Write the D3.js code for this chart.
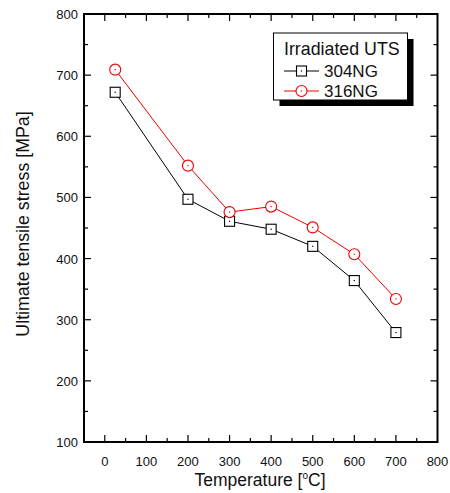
<!DOCTYPE html>
<html><head><meta charset="utf-8">
<script src="https://cdn.jsdelivr.net/npm/d3@7"></script>
<style>
body{margin:0;background:#fff;}
svg{display:block;font-family:"Liberation Sans",Arial,sans-serif;}
</style></head>
<body><svg id="c" width="450" height="493"></svg>
<script>
const temps = [25, 200, 300, 400, 500, 600, 700];
const uts304 = [672, 497, 461, 448, 420, 364, 279];
const uts316 = [709, 552, 476, 485, 451, 407, 334];
const xTicks = [0, 100, 200, 300, 400, 500, 600, 700, 800];
const yTicks = [100, 200, 300, 400, 500, 600, 700, 800];
const seriesNames = ["304NG", "316NG"];
const legendTitle = "Irradiated UTS";

const svg = d3.select("#c");
const L = 84, R = 437.5, T = 14, B = 442;
const x = d3.scaleLinear().domain([-50, 800]).range([L, R]);
const y = d3.scaleLinear().domain([100, 800]).range([B, T]);

const g = svg.append("g");
const xMinor = d3.range(-50, 801, 50).filter(v => v > -50 && v < 800);
const yMinor = d3.range(100, 801, 50).filter(v => v > 100 && v < 800);
function tickLen(v){ return v % 100 === 0 ? 7 : 4; }
xMinor.forEach(v => {
  g.append("line").attr("x1", x(v)).attr("x2", x(v)).attr("y1", B).attr("y2", B - tickLen(v)).attr("stroke", "#000").attr("stroke-width", 1.2);
  g.append("line").attr("x1", x(v)).attr("x2", x(v)).attr("y1", T).attr("y2", T + tickLen(v)).attr("stroke", "#000").attr("stroke-width", 1.2);
});
yMinor.forEach(v => {
  g.append("line").attr("y1", y(v)).attr("y2", y(v)).attr("x1", L).attr("x2", L + tickLen(v)).attr("stroke", "#000").attr("stroke-width", 1.2);
  g.append("line").attr("y1", y(v)).attr("y2", y(v)).attr("x1", R).attr("x2", R - tickLen(v)).attr("stroke", "#000").attr("stroke-width", 1.2);
});
g.append("rect").attr("x", L).attr("y", T).attr("width", R - L).attr("height", B - T)
  .attr("fill", "none").attr("stroke", "#000").attr("stroke-width", 2);

xTicks.forEach(v => {
  svg.append("text").attr("x", x(v)).attr("y", B + 24).attr("text-anchor", "middle")
    .attr("font-size", 13).attr("fill", "#111").text(v);
});
yTicks.forEach(v => {
  svg.append("text").attr("x", L - 6).attr("y", y(v) + 5).attr("text-anchor", "end")
    .attr("font-size", 13).attr("fill", "#111").text(v);
});

const xt = svg.append("text").attr("x", 260).attr("y", 486).attr("text-anchor", "middle")
  .attr("font-size", 17.5).attr("fill", "#111");
xt.append("tspan").text("Temperature [");
xt.append("tspan").attr("font-size", 10).attr("dy", -7).text("o");
xt.append("tspan").attr("dy", 7).text("C]");
svg.append("text").attr("transform", `translate(28.5,224) rotate(-90)`)
  .attr("text-anchor", "middle").attr("font-size", 17.8).attr("fill", "#111")
  .text("Ultimate tensile stress [MPa]");

const series = [
  {name: seriesNames[0], vals: uts304, color: "#000", shape: "square"},
  {name: seriesNames[1], vals: uts316, color: "#e00", shape: "circle"}
];
const line = d3.line().x((d, i) => x(temps[i])).y(d => y(d));
function marker(sel, shape, color, cx, cy) {
  if (shape === "square") {
    sel.append("rect").attr("x", cx - 5).attr("y", cy - 5).attr("width", 10).attr("height", 10)
      .attr("fill", "#fff").attr("stroke", color).attr("stroke-width", 1.1);
  } else {
    sel.append("circle").attr("cx", cx).attr("cy", cy).attr("r", 5.5)
      .attr("fill", "#fff").attr("stroke", color).attr("stroke-width", 1.1);
  }
  sel.append("rect").attr("x", cx - 0.6).attr("y", cy - 0.6).attr("width", 1.2).attr("height", 1.2).attr("fill", color);
}
series.forEach(s => {
  svg.append("path").attr("d", line(s.vals)).attr("fill", "none").attr("stroke", s.color).attr("stroke-width", 1);
  s.vals.forEach((v, i) => marker(svg.append("g"), s.shape, s.color, x(temps[i]), y(v)));
});

const lx = 273.5, ly = 33, lw = 134, lh = 67;
svg.append("rect").attr("x", lx + 6).attr("y", ly + 6).attr("width", lw).attr("height", lh).attr("fill", "#000");
svg.append("rect").attr("x", lx).attr("y", ly).attr("width", lw).attr("height", lh).attr("fill", "#fff")
  .attr("stroke", "#000").attr("stroke-width", 1);
svg.append("text").attr("x", lx + 10.5).attr("y", ly + 21.5).attr("font-size", 17.8).attr("fill", "#111").text(legendTitle);
series.forEach((s, i) => {
  const cy = ly + 38 + i * 20;
  svg.append("line").attr("x1", lx + 10.5).attr("x2", lx + 45.5).attr("y1", cy).attr("y2", cy).attr("stroke", s.color).attr("stroke-width", 1);
  marker(svg.append("g"), s.shape, s.color, lx + 28, cy);
  svg.append("text").attr("x", lx + 50.5).attr("y", cy + 6).attr("font-size", 17).attr("fill", "#111").text(s.name);
});
</script></body></html>
